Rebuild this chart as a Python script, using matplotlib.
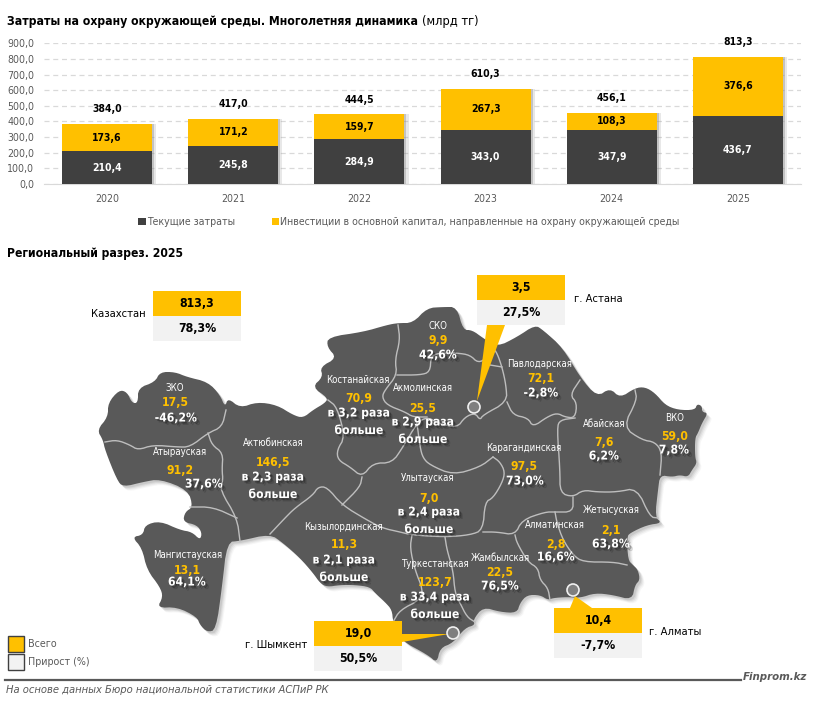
import matplotlib
matplotlib.use('Agg')
import matplotlib.pyplot as plt
import matplotlib.patheffects as pe
from matplotlib.patches import Polygon, Rectangle, Circle

plt.rcParams['font.family'] = ['DejaVu Sans']
plt.rcParams['font.stretch'] = 'condensed'

# bar chart data
years = ['2020', '2021', '2022', '2023', '2024', '2025']
current_costs = [210.4, 245.8, 284.9, 343.0, 347.9, 436.7]
investments = [173.6, 171.2, 159.7, 267.3, 108.3, 376.6]
totals = [384.0, 417.0, 444.5, 610.3, 456.1, 813.3]
y_ticks = [0, 100, 200, 300, 400, 500, 600, 700, 800, 900]

# regional data
regions = ['ЗКО', 'Атырауская', 'Мангистауская', 'Актюбинская', 'Костанайская',
           'Акмолинская', 'СКО', 'Павлодарская', 'Абайская', 'ВКО', 'Карагандинская',
           'Улытауская', 'Кызылординская', 'Туркестанская', 'Жамбылская',
           'Алматинская', 'Жетысуская']
region_totals = [17.5, 91.2, 13.1, 146.5, 70.9, 25.5, 9.9, 72.1, 7.6, 59.0, 97.5,
                 7.0, 11.3, 123.7, 22.5, 2.8, 2.1]
region_growth = ['-46,2%', '37,6%', '64,1%', 'в 2,3 раза\nбольше', 'в 3,2 раза\nбольше',
                 'в 2,9 раза\nбольше', '42,6%', '-2,8%', '6,2%', '7,8%', '73,0%',
                 'в 2,4 раза\nбольше', 'в 2,1 раза\nбольше', 'в 33,4 раза\nбольше',
                 '76,5%', '16,6%', '63,8%']

# city / country boxes
box_names = ['Казахстан', 'г. Астана', 'г. Шымкент', 'г. Алматы']
box_totals = [813.3, 3.5, 19.0, 10.4]
box_growth = ['78,3%', '27,5%', '50,5%', '-7,7%']

# label positions on the map, in pixels of the picture
name_pos = [(175, 388), (180, 452), (188, 555), (273, 443), (358, 380), (423, 388),
            (438, 326), (540, 364), (604, 424), (675, 418), (524, 448), (428, 478),
            (343, 527), (436, 564), (500, 558), (555, 525), (611, 510)]
total_pos = [(175, 403), (180, 470), (187, 570), (273, 462), (359, 398), (423, 408),
             (438, 341), (541, 379), (604, 443), (675, 436), (524, 467), (429, 498),
             (344, 545), (435, 582), (500, 572), (556, 544), (611, 531)]
growth_pos = [(176, 418), (204, 484), (187, 582), (273, 477), (359, 413), (423, 422),
              (438, 355), (541, 393), (604, 456), (674, 450), (525, 481), (429, 512),
              (344, 560), (435, 597), (500, 586), (556, 557), (611, 544)]

# country outline
outline = [(97, 430), (108, 417), (108, 403), (119, 390), (127, 392), (132, 403), (138, 403),
           (138, 388), (155, 382), (160, 372), (175, 372), (187, 377), (208, 382), (220, 395),
           (225, 407), (228, 398), (240, 408), (257, 402), (277, 405), (293, 415), (303, 418),
           (313, 410), (325, 403), (328, 398), (312, 387), (323, 377), (320, 367), (337, 358),
           (327, 347), (328, 337), (363, 332), (387, 325), (398, 323), (413, 323), (427, 308),
           (443, 307), (457, 307), (463, 330), (472, 330), (483, 338), (497, 347), (517, 337),
           (535, 325), (543, 330), (563, 348), (580, 377), (597, 397), (610, 388), (620, 398),
           (635, 388), (645, 387), (655, 393), (665, 405), (678, 410), (695, 410), (697, 404),
           (702, 406), (702, 412), (708, 413), (702, 423), (698, 433), (695, 438), (695, 457),
           (697, 463), (692, 470), (688, 477), (680, 475), (672, 477), (660, 475), (658, 490),
           (655, 517), (662, 523), (647, 525), (630, 533), (627, 537), (628, 560), (633, 565),
           (638, 570), (640, 580), (635, 585), (632, 600), (613, 595), (595, 593), (580, 598),
           (567, 597), (553, 598), (548, 600), (540, 595), (527, 595), (520, 603), (517, 613),
           (500, 612), (483, 607), (473, 620), (475, 625), (465, 628), (453, 643), (440, 648),
           (437, 663), (428, 655), (400, 640), (393, 622), (392, 610), (385, 602), (375, 593),
           (370, 587), (355, 585), (340, 585), (327, 587), (320, 583), (313, 573), (300, 558),
           (283, 543), (270, 534), (240, 541), (227, 542), (222, 587), (216, 630), (207, 632),
           (200, 625), (197, 617), (177, 607), (157, 608), (163, 597), (160, 587), (147, 570),
           (142, 548), (132, 537), (143, 535), (145, 525), (160, 521), (180, 530), (192, 532),
           (200, 540), (202, 533), (197, 525), (183, 522), (185, 512), (193, 507), (188, 490),
           (160, 479), (143, 482), (123, 487), (117, 480), (105, 450), (103, 440)]

# borders between regions
borders = [
    [(105, 442), (117, 440), (130, 445), (138, 450), (153, 445), (177, 447), (190, 447), (208, 433),
     (222, 427), (226, 410)],
    [(208, 433), (212, 445), (223, 453), (222, 470), (223, 480), (220, 490), (237, 518), (240, 541)],
    [(190, 507), (213, 507), (237, 518)],
    [(328, 400), (337, 407), (345, 437), (337, 450), (338, 460), (350, 467), (362, 477), (373, 463),
     (392, 463), (403, 447), (417, 423), (427, 417), (438, 423), (457, 428), (465, 417), (475, 413),
     (480, 420), (483, 415), (507, 402), (506, 385), (502, 367), (497, 353), (493, 348)],
    [(398, 325), (400, 340), (395, 360), (397, 375), (385, 390), (382, 397), (387, 405), (405, 412),
     (413, 417), (427, 417)],
    [(397, 375), (420, 375), (430, 372), (431, 357), (438, 353), (457, 353), (470, 355), (478, 363),
     (487, 358), (493, 348)],
    [(490, 365), (502, 367)],
    [(507, 402), (513, 415), (528, 418), (533, 427), (547, 417), (557, 413), (565, 417), (575, 418),
     (577, 403), (570, 395), (580, 380)],
    [(575, 418), (560, 420), (557, 428), (560, 470), (560, 493), (573, 497), (583, 490), (597, 492),
     (617, 492), (637, 488), (650, 517), (658, 518)],
    [(635, 390), (637, 400), (623, 427), (642, 440), (655, 442), (662, 452), (660, 475)],
    [(573, 497), (573, 512), (555, 512), (545, 512), (522, 520), (515, 535), (497, 532), (483, 532)],
    [(555, 512), (557, 523), (563, 540), (573, 555), (583, 562), (613, 562), (627, 565)],
    [(493, 457), (500, 462), (505, 472), (502, 483), (493, 498), (485, 502), (483, 530), (470, 535),
     (445, 537), (412, 535), (400, 532), (382, 528), (367, 520), (342, 505), (327, 487), (318, 487),
     (313, 495), (295, 508), (285, 518), (270, 534)],
    [(493, 457), (480, 467), (453, 475), (430, 465), (423, 458), (420, 447), (417, 423)],
    [(362, 477), (360, 487), (342, 505)],
    [(412, 535), (410, 548), (415, 570), (423, 590), (420, 600), (400, 610), (393, 622)],
    [(445, 537), (447, 550), (453, 570), (455, 593), (460, 603), (467, 617), (475, 622)],
    [(515, 535), (517, 543), (528, 562), (538, 568), (540, 580), (548, 588), (550, 600)],
]

DARK = '#404040'
YELLOW = '#FFC000'
MAP_GREY = '#595959'
TEXT_GREY = '#595959'
LIGHT = '#F2F2F2'


def fmt(v):
    return f'{v:.1f}'.replace('.', ',')


def rounded(pts, closed=False, passes=2):
    # corner cutting, the traced outline is otherwise too angular
    for _ in range(passes):
        new = [] if closed else [pts[0]]
        n = len(pts)
        for i in range(n if closed else n - 1):
            a, b = pts[i], pts[(i + 1) % n]
            new.append((0.75 * a[0] + 0.25 * b[0], 0.75 * a[1] + 0.25 * b[1]))
            new.append((0.25 * a[0] + 0.75 * b[0], 0.25 * a[1] + 0.75 * b[1]))
        if not closed:
            new.append(pts[-1])
        pts = new
    return pts


fig = plt.figure(figsize=(8.15, 7.05), dpi=100)

# --- stacked bars ---
ax = fig.add_axes([44 / 815, (705 - 184) / 705, (801 - 44) / 815, (184 - 43.3) / 705])
x = list(range(len(years)))
shadow = [pe.SimplePatchShadow(offset=(3, 0), shadow_rgbFace='#909090', alpha=0.2),
          pe.SimplePatchShadow(offset=(1.5, 0), shadow_rgbFace='#808080', alpha=0.35),
          pe.Normal()]
b1 = ax.bar(x, current_costs, width=0.713, color=DARK, label='Текущие затраты',
            path_effects=shadow, zorder=3)
b2 = ax.bar(x, investments, width=0.713, bottom=current_costs, color=YELLOW,
            label='Инвестиции в основной капитал, направленные на охрану окружающей среды',
            path_effects=shadow, zorder=3)
for i in x:
    ax.text(i, current_costs[i] / 2, fmt(current_costs[i]), ha='center', va='center',
            color='white', fontsize=7.5, fontweight='bold', zorder=5)
    ax.text(i, current_costs[i] + investments[i] / 2, fmt(investments[i]), ha='center', va='center',
            color='black', fontsize=7.5, fontweight='bold', zorder=5)
    ax.annotate(fmt(totals[i]), (i, current_costs[i] + investments[i]), xytext=(0, 10.5),
                textcoords='offset points', ha='center', va='center',
                color='black', fontsize=7.5, fontweight='bold', zorder=5)
ax.set_xlim(-0.5, 5.5)
ax.set_ylim(0, 900)
ax.set_xticks(x, years)
ax.set_yticks(y_ticks, [fmt(v) for v in y_ticks])
ax.tick_params(length=0, labelsize=7.6, labelcolor=TEXT_GREY)
ax.tick_params(axis='x', pad=7)
ax.tick_params(axis='y', pad=7)
ax.grid(axis='y', color='#D9D9D9', linestyle=(0, (4, 3)), linewidth=0.9, zorder=0)
ax.set_axisbelow(True)
for s in ['top', 'left', 'right']:
    ax.spines[s].set_visible(False)
ax.spines['bottom'].set_color('#D9D9D9')
leg = ax.legend(loc='center', bbox_to_anchor=(409 / 815, (705 - 222.5) / 705),
                bbox_transform=fig.transFigure, ncol=2, frameon=False, fontsize=7.6,
                handlelength=0.7, handleheight=0.7, handletextpad=0.1, columnspacing=3.5,
                labelcolor=TEXT_GREY, borderpad=0)
for h in leg.legend_handles:
    h.set_path_effects([])

# --- everything else, in picture pixels ---
ov = fig.add_axes([0, 0, 1, 1], zorder=2)
ov.set_xlim(0, 815)
ov.set_ylim(705, 0)
ov.axis('off')
ov.patch.set_alpha(0)

ov.text(7, 22, 'Затраты на охрану окружающей среды. Многолетняя динамика', fontsize=8.7,
        fontweight='bold', va='center', color='black')
ov.text(422, 22, '(млрд тг)', fontsize=9.2, va='center', color='black')
ov.text(7, 253, 'Региональный разрез. 2025', fontsize=8.7, fontweight='bold', va='center', color='black')

# map with soft shadow
smooth_outline = rounded(outline, closed=True)
for d, a in [(5, 0.05), (4, 0.08), (3, 0.1), (2, 0.14)]:
    ov.add_patch(Polygon([(px + d, py + d) for px, py in smooth_outline], closed=True,
                         facecolor='#606060', edgecolor='none', alpha=a, zorder=1))
ov.add_patch(Polygon(smooth_outline, closed=True, facecolor=MAP_GREY, edgecolor='none', zorder=2))
for line in borders:
    line = rounded(line)
    ov.plot([p[0] for p in line], [p[1] for p in line], color='#BEBEBE', linewidth=1.0,
            solid_joinstyle='round', zorder=3)

# pointers to the cities
pointers = [[(487, 325), (505, 325), (477, 401)],
            [(402, 634), (402, 642), (449, 634)],
            [(570, 608), (592, 608), (575, 596)]]
for tri in pointers:
    ov.add_patch(Polygon(tri, closed=True, facecolor=YELLOW, edgecolor='none', zorder=4))
for cx, cy in [(474, 407), (453, 633), (573, 590)]:
    ov.add_patch(Circle((cx, cy), 6, facecolor='#7F7F7F', edgecolor='#F0F0F0', linewidth=1.2, zorder=5))

# region labels
txt_shadow = [pe.SimplePatchShadow(offset=(2.5, -2.5), shadow_rgbFace='black', alpha=0.14),
              pe.SimplePatchShadow(offset=(1.5, -1.5), shadow_rgbFace='black', alpha=0.28),
              pe.Normal()]
for i, name in enumerate(regions):
    ov.text(*name_pos[i], name, color='white', fontsize=6.9, ha='center', va='center', zorder=6)
    ov.text(*total_pos[i], fmt(region_totals[i]), color=YELLOW, fontsize=8.7, fontweight='bold',
            ha='center', va='center', zorder=6)
    for k, part in enumerate(region_growth[i].split('\n')):
        ov.text(growth_pos[i][0], growth_pos[i][1] + 17.5 * k, part, color='white', fontsize=8.7,
                fontweight='bold', ha='center', va='center', zorder=6, path_effects=txt_shadow)

# boxes
box_xy = [(153, 291), (477, 275), (314, 621), (554, 608)]
box_label_pos = [(146, 314, 'right'), (574, 299, 'left'), (307, 645, 'right'), (649, 632, 'left')]
for i, name in enumerate(box_names):
    bx, by = box_xy[i]
    ov.add_patch(Rectangle((bx, by), 88, 25, facecolor=YELLOW, edgecolor='none', zorder=7))
    ov.add_patch(Rectangle((bx, by + 25), 88, 25, facecolor=LIGHT, edgecolor='none', zorder=7))
    ov.text(bx + 44, by + 12.5, fmt(box_totals[i]), fontsize=8.8, fontweight='bold', color='black',
            ha='center', va='center', zorder=8)
    ov.text(bx + 44, by + 37.5, box_growth[i], fontsize=8.8, fontweight='bold', color='black',
            ha='center', va='center', zorder=8)
    lx, ly, lha = box_label_pos[i]
    ov.text(lx, ly, name, fontsize=8, color='black', ha=lha, va='center', zorder=8)

# small legend
ov.add_patch(Rectangle((8, 636), 16, 16, facecolor=YELLOW, edgecolor=DARK, linewidth=1.0, zorder=7))
ov.add_patch(Rectangle((8, 654), 16, 16, facecolor=LIGHT, edgecolor=DARK, linewidth=1.0, zorder=7))
ov.text(28, 644, 'Всего', fontsize=7.7, color=TEXT_GREY, va='center')
ov.text(28, 662, 'Прирост (%)', fontsize=7.7, color=TEXT_GREY, va='center')

# footer
ov.plot([5, 741], [680, 680], color=MAP_GREY, linewidth=1.6, zorder=7)
ov.text(6, 690, 'На основе данных Бюро национальной статистики АСПиР РК', fontsize=8,
        fontstyle='italic', color=TEXT_GREY, va='center')
ov.text(743, 677, 'Finprom.kz', fontsize=8.2, fontstyle='italic', fontweight='bold', color=TEXT_GREY,
        va='center')

fig.savefig('out.png', dpi=100)
